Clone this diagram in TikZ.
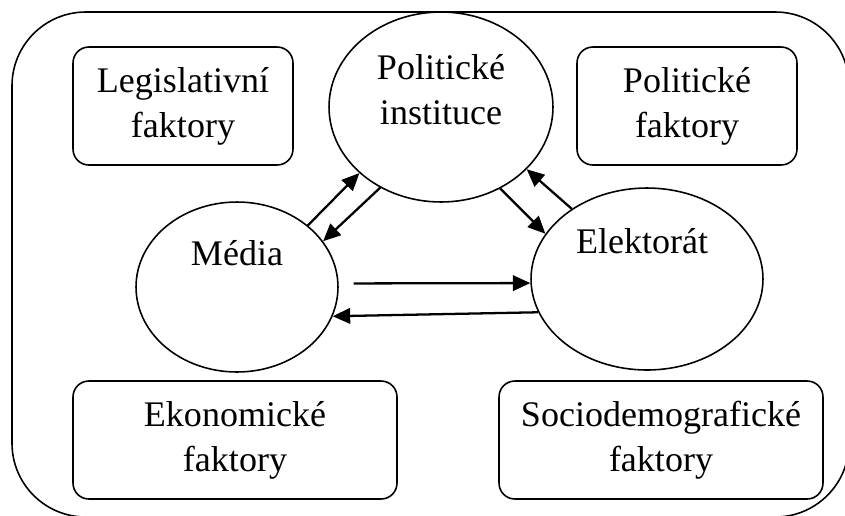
\documentclass[tikz,border=0pt]{standalone}
\usepackage{fontspec}
\setmainfont{Liberation Serif}
\usetikzlibrary{arrows.meta,shapes.geometric}

\begin{document}
\begin{tikzpicture}[
    x=0.02cm, y=-0.02cm,
    factor/.style={draw, line width=0.9pt, rounded corners=9pt, minimum height=23.6mm, align=center, font=\fontsize{20.5}{25.5}\selectfont},
    actor/.style={draw, ellipse, line width=0.9pt, inner sep=0pt},
    lbl/.style={align=center, font=\fontsize{20.5}{25.5}\selectfont},
    flow/.style={line width=1.3pt, -{Triangle[length=3.5mm, width=3.1mm]}}
  ]
  \useasboundingbox (0,0) rectangle (845,515);

  % outer frame
  \draw[line width=0.9pt, rounded corners=42pt] (12,12) rectangle (849,517);

  % factors in the corners
  \node[factor, minimum width=44mm] (legis) at (183,106) {Legislativní\\faktory};
  \node[factor, minimum width=44mm] (polfak) at (687,106) {Politické\\faktory};
  \node[factor, minimum width=64.8mm] (ekon) at (235,440) {Ekonomické\\faktory};
  \node[factor, minimum width=64.8mm] (socio) at (661,440) {Sociodemografické\\faktory};

  % actors
  \node[actor, minimum width=44.8mm, minimum height=38mm] (polinst) at (441,107) {};
  \node[actor, minimum width=40.4mm, minimum height=34mm] (media) at (237,287) {};
  \node[actor, minimum width=46.4mm, minimum height=36.4mm] (elek) at (647,279) {};
  \node[lbl] (polinstlbl) at (441,90) {Politické\\instituce};
  \node[lbl] (medialbl) at (237,253) {Média};
  \node[lbl] (eleklbl) at (642,241) {Elektorát};

  % flows between actors
  \draw[flow] (media.41) -- (polinst.219);
  \draw[flow] (polinst.233) -- (media.28);
  \draw[flow] (polinst.306) -- (elek.156);
  \draw[flow] (elek.137) -- (polinst.324);
  \draw[flow, shorten <=3mm] (media.2) -- (elek.182);
  \draw[flow] (elek.197) -- (media.343);

\end{tikzpicture}
\end{document}
